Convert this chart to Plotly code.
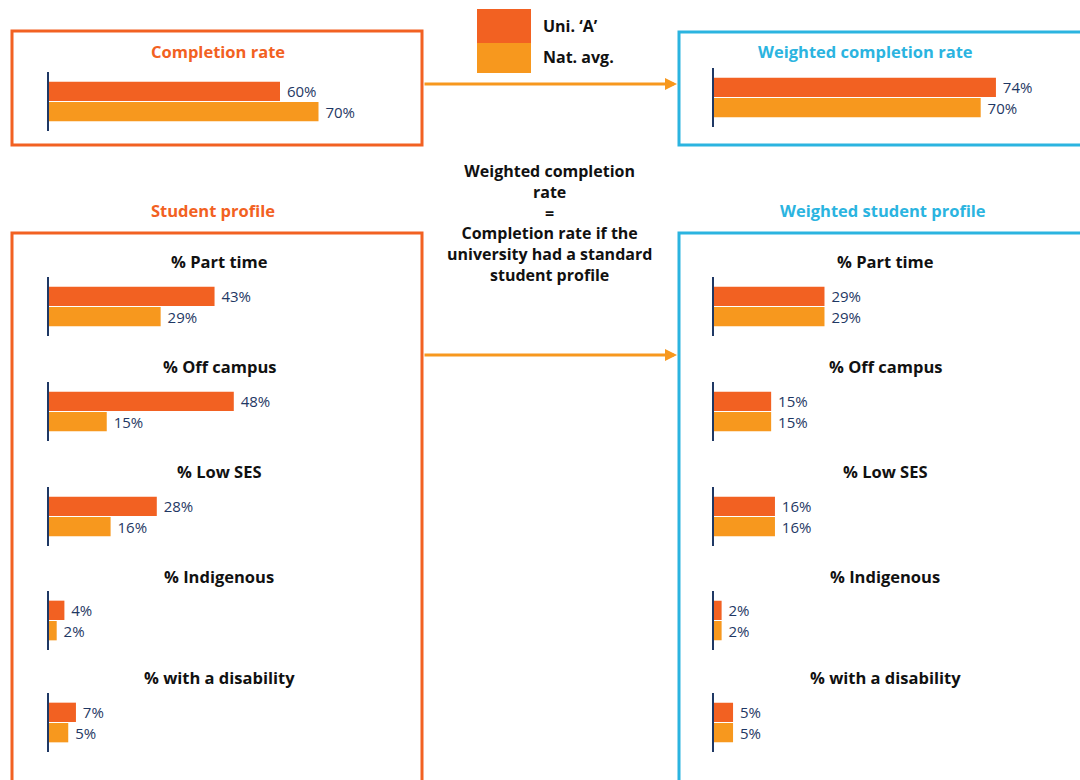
import plotly.graph_objects as go

# ---------------- data ----------------
series = ["Uni. ‘A’", "Nat. avg."]
completion_rate = [60, 70]
weighted_completion_rate = [74, 70]

profile_categories = ["% Part time", "% Off campus", "% Low SES", "% Indigenous", "% with a disability"]
profile_uni = [43, 48, 28, 4, 7]
profile_nat = [29, 15, 16, 2, 5]
weighted_profile_uni = [29, 15, 16, 2, 5]
weighted_profile_nat = [29, 15, 16, 2, 5]

# ---------------- styling ----------------
W, H = 1080, 780
C_UNI = "#F26122"
C_NAT = "#F7981E"
C_CYAN = "#2BB4E0"
C_LABEL = "#1F3864"
C_AXIS = "#1F3864"
FONT = "Open Sans"


def px(x):
    return x / W


def py(y):
    return 1 - y / H


fig = go.Figure()
layout = {}
annotations = []
shapes = []

panels = []  # (values, x_left_px, y_top_px, px_per_unit)
panels.append((completion_rate, 49, 72, 3.85))
panels.append((weighted_completion_rate, 714, 68, 3.81))
left_tops = [277, 382, 487, 591, 693]
for i in range(len(profile_categories)):
    panels.append(([profile_uni[i], profile_nat[i]], 49, left_tops[i], 3.85))
for i in range(len(profile_categories)):
    panels.append(([weighted_profile_uni[i], weighted_profile_nat[i]], 714, left_tops[i], 3.81))

XMAX = 80
for k, (vals, xl, yt, scale) in enumerate(panels):
    n = k + 1
    xa = "x" if n == 1 else f"x{n}"
    ya = "y" if n == 1 else f"y{n}"
    fig.add_trace(go.Bar(
        x=vals, y=series, orientation="h",
        marker=dict(color=[C_UNI, C_NAT], line=dict(width=0)),
        width=0.95,
        text=[f" {v}%" for v in vals], textposition="outside", constraintext="none",
        textfont=dict(color=C_LABEL, size=15, family=FONT),
        cliponaxis=False, showlegend=False,
        xaxis=xa, yaxis=ya, hoverinfo="skip",
    ))
    h_px = 59
    layout[f"xaxis{'' if n == 1 else n}"] = dict(
        domain=[px(xl), px(xl + XMAX * scale)], range=[0, XMAX], anchor=ya,
        visible=False, fixedrange=True)
    layout[f"yaxis{'' if n == 1 else n}"] = dict(
        domain=[py(yt + h_px), py(yt)], anchor=xa, type="category",
        range=[1.95, -0.95], showticklabels=False, ticks="", showgrid=False,
        zeroline=False, showline=True, linecolor=C_AXIS, linewidth=1.6,
        fixedrange=True)

# ---------------- boxes ----------------
def box(x0, y0, x1, y1, color):
    shapes.append(dict(type="rect", xref="paper", yref="paper",
                       x0=px(x0), x1=px(x1), y0=py(y1), y1=py(y0),
                       line=dict(color=color, width=3), fillcolor="rgba(0,0,0,0)",
                       layer="below"))

box(12, 31, 422, 145, C_UNI)
box(679, 32, 1092, 145, C_CYAN)
box(12, 233, 422, 800, C_UNI)
box(679, 233, 1092, 800, C_CYAN)

# ---------------- legend swatches ----------------
shapes.append(dict(type="rect", xref="paper", yref="paper", x0=px(477), x1=px(531),
                   y0=py(43), y1=py(9), fillcolor=C_UNI, line=dict(width=0)))
shapes.append(dict(type="rect", xref="paper", yref="paper", x0=px(477), x1=px(531),
                   y0=py(73), y1=py(43), fillcolor=C_NAT, line=dict(width=0)))
annotations.append(dict(text=f"<b>{series[0]}</b>", x=px(541), y=py(26), xref="paper", yref="paper",
                        xanchor="left", yanchor="middle", showarrow=False,
                        font=dict(size=16, color="#111111", family=FONT)))
annotations.append(dict(text=f"<b>{series[1]}</b>", x=px(541), y=py(57), xref="paper", yref="paper",
                        xanchor="left", yanchor="middle", showarrow=False,
                        font=dict(size=16, color="#111111", family=FONT)))

# ---------------- arrows ----------------
for yy in (84, 355):
    annotations.append(dict(x=px(677), y=py(yy), ax=-(677 - 423), ay=0,
                            xref="paper", yref="paper", axref="pixel", ayref="pixel",
                            text="", showarrow=True, arrowhead=2, arrowsize=0.8,
                            arrowwidth=3, arrowcolor=C_NAT))

# ---------------- titles ----------------
def label(text, x, y, color, size=16.5):
    annotations.append(dict(text=f"<b>{text}</b>", x=px(x), y=py(y), xref="paper", yref="paper",
                            xanchor="center", yanchor="middle", showarrow=False,
                            font=dict(size=size, color=color, family=FONT)))

label("Completion rate", 218, 52, C_UNI)
label("Weighted completion rate", 865, 52, C_CYAN)
label("Student profile", 213, 211, C_UNI)
label("Weighted student profile", 883, 211, C_CYAN)

title_ys = [262, 366, 471, 576, 677]
for i, cat in enumerate(profile_categories):
    label(cat, 219, title_ys[i], "#111111")
    label(cat, 885, title_ys[i], "#111111")

annotations.append(dict(
    text="<b>Weighted completion<br>rate<br>=<br>Completion rate if the<br>university had a standard<br>student profile</b>",
    x=px(549), y=py(223), xref="paper", yref="paper", xanchor="center", yanchor="middle",
    align="center", showarrow=False, font=dict(size=16, color="#111111", family=FONT)))

fig.update_layout(
    width=W, height=H, margin=dict(l=0, r=0, t=0, b=0),
    paper_bgcolor="white", plot_bgcolor="rgba(0,0,0,0)",
    shapes=shapes, annotations=annotations, showlegend=False,
    bargap=0.05, uniformtext=dict(mode=False),
    **layout,
)

fig.write_html("out.html", config={"displayModeBar": False})
